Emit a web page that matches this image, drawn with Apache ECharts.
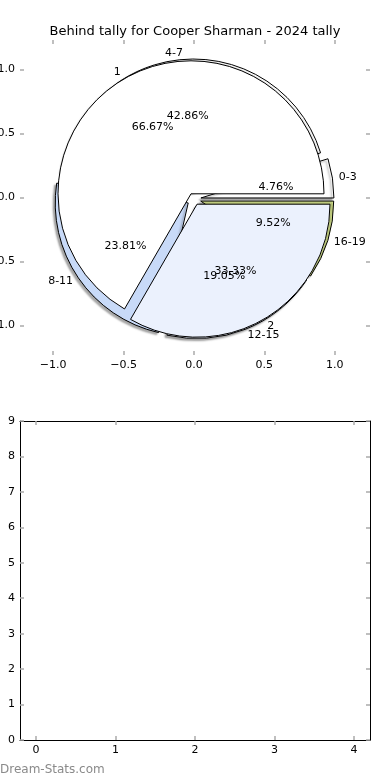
<!DOCTYPE html>
<html>
<head>
<meta charset="utf-8">
<script src="https://cdn.jsdelivr.net/npm/echarts@6/dist/echarts.min.js"></script>
<style>html,body{margin:0;padding:0;background:#fff}#c{width:390px;height:780px}</style>
</head>
<body>
<div id="c"></div>
<script>
// ---- data ----
const titleText = 'Behind tally for Cooper Sharman - 2024 tally';
const outerNames = ['1', '2'];
const outerValues = [14, 7];
const rangeNames = ['0-3', '4-7', '8-11', '12-15', '16-19'];
const rangeValues = [1, 9, 5, 4, 2];
const pieTicks = [-1, -0.5, 0, 0.5, 1];
const bottomXTicks = [0, 1, 2, 3, 4];
const bottomYTicks = [0, 1, 2, 3, 4, 5, 6, 7, 8, 9];

// ---- styles ----
const outerColors = ['#ffffff', '#ebf1fd'];
const rangeColors = ['#ffffff', '#ffffff', '#c8daf8', '#ebf1fd', '#d6e48e'];
const FONT = 'DejaVu Sans';
const CX = 194, CY = 199, R = 133;
const tickCol = '#aaaaaa';

const chart = echarts.init(document.getElementById('c'), null, {renderer: 'canvas'});
const fmt = v => (v.toFixed(1)).replace('-', '\u2212');

function labelPie(names, values, radius, pos) {
  return {
    type: 'pie', center: [CX, CY], radius: radius,
    startAngle: 0, clockwise: false, silent: true, avoidLabelOverlap: false,
    z: 10,
    labelLayout: {hideOverlap: false},
    itemStyle: {color: 'rgba(0,0,0,0)', borderWidth: 0},
    emphasis: {disabled: true},
    label: pos === 'inside'
      ? {show: true, position: 'inside', formatter: '{d}%', color: '#000', fontFamily: FONT, fontSize: 11}
      : {show: true, position: 'outside', formatter: '{b}', color: '#000', fontFamily: FONT, fontSize: 11, distanceToLabelLine: 0},
    labelLine: {show: false, length: R * 0.1, length2: 0},
    data: names.map((n, i) => ({name: n, value: values[i]}))
  };
}

const tickStyle = {show: true, inside: true, length: 4, lineStyle: {color: tickCol, width: 1.5}};
const lbl = {color: '#000', fontFamily: FONT, fontSize: 11};
const frameLine = {show: true, onZero: false, lineStyle: {color: '#000', width: 1}};
const noLine = {show: false, onZero: false};

const option = {
  animation: false,
  title: {text: titleText, left: 'center', top: 20, textStyle: {fontFamily: FONT, fontSize: 13, fontWeight: 'normal', color: '#000'}},
  grid: [
    {left: 20, right: 20, top: 40, bottom: 425, outerBoundsMode: 'none', containLabel: false},
    {left: 20, right: 20, top: 421, bottom: 40, outerBoundsMode: 'none', containLabel: false}
  ],
  xAxis: [
    {gridIndex: 0, type: 'value', min: -1.235, max: 1.25, position: 'bottom',
     axisLine: noLine, splitLine: {show: false},
     axisTick: Object.assign({customValues: pieTicks}, tickStyle),
     axisLabel: Object.assign({customValues: pieTicks, formatter: fmt, margin: 5}, lbl)},
    {gridIndex: 0, type: 'value', min: -1.235, max: 1.25, position: 'top',
     axisLine: noLine, splitLine: {show: false},
     axisTick: Object.assign({customValues: pieTicks}, tickStyle),
     axisLabel: {show: false}},
    {gridIndex: 1, type: 'value', min: -0.2, max: 4.2, position: 'bottom',
     axisLine: frameLine, splitLine: {show: false},
     axisTick: Object.assign({customValues: bottomXTicks}, tickStyle),
     axisLabel: Object.assign({customValues: bottomXTicks, margin: 5}, lbl)},
    {gridIndex: 1, type: 'value', min: -0.2, max: 4.2, position: 'top',
     axisLine: frameLine, splitLine: {show: false},
     axisTick: Object.assign({customValues: bottomXTicks}, tickStyle),
     axisLabel: {show: false}}
  ],
  yAxis: [
    {gridIndex: 0, type: 'value', min: -1.23, max: 1.23, position: 'left',
     axisLine: noLine, splitLine: {show: false},
     axisTick: Object.assign({customValues: pieTicks}, tickStyle),
     axisLabel: Object.assign({customValues: pieTicks, formatter: fmt, margin: 5}, lbl)},
    {gridIndex: 0, type: 'value', min: -1.23, max: 1.23, position: 'right',
     axisLine: noLine, splitLine: {show: false},
     axisTick: Object.assign({customValues: pieTicks}, tickStyle),
     axisLabel: {show: false}},
    {gridIndex: 1, type: 'value', min: 0, max: 9, interval: 1, position: 'left',
     axisLine: frameLine, splitLine: {show: false},
     axisTick: Object.assign({customValues: bottomYTicks}, tickStyle),
     axisLabel: Object.assign({customValues: bottomYTicks, margin: 5}, lbl)},
    {gridIndex: 1, type: 'value', min: 0, max: 9, interval: 1, position: 'right',
     axisLine: frameLine, splitLine: {show: false},
     axisTick: Object.assign({customValues: bottomYTicks}, tickStyle),
     axisLabel: {show: false}}
  ],
  graphic: [{
    type: 'text', left: 0, top: 764,
    style: {text: 'Dream-Stats.com', fill: '#8a8a8a', font: '12px "DejaVu Sans"'}
  }],
  series: [
    {
      type: 'pie', center: [CX, CY], radius: R, startAngle: 0, clockwise: false,
      selectedMode: 'multiple', selectedOffset: 7, silent: true, z: 2,
      label: {show: false}, labelLine: {show: false}, emphasis: {disabled: true},
      itemStyle: {borderColor: '#000', borderWidth: 1, shadowColor: 'rgba(0,0,0,0.35)', shadowBlur: 2, shadowOffsetX: -2, shadowOffsetY: 2},
      data: rangeNames.map((n, i) => ({name: n, value: rangeValues[i], selected: true, itemStyle: {color: rangeColors[i]}}))
    },
    {
      type: 'pie', center: [CX, CY], radius: R, startAngle: 0, clockwise: false,
      selectedMode: 'multiple', selectedOffset: 6, silent: true, z: 3,
      label: {show: false}, labelLine: {show: false}, emphasis: {disabled: true},
      itemStyle: {borderColor: '#000', borderWidth: 1},
      data: outerNames.map((n, i) => ({name: n, value: outerValues[i], selected: true, itemStyle: {color: outerColors[i]}}))
    },
    labelPie(rangeNames, rangeValues, [0, R * 1.2], 'inside'),
    labelPie(outerNames, outerValues, [0, R * 1.2], 'inside'),
    labelPie(rangeNames, rangeValues, [0, R], 'outside'),
    labelPie(outerNames, outerValues, [0, R], 'outside')
  ]
};
chart.setOption(option);
</script>
</body>
</html>
